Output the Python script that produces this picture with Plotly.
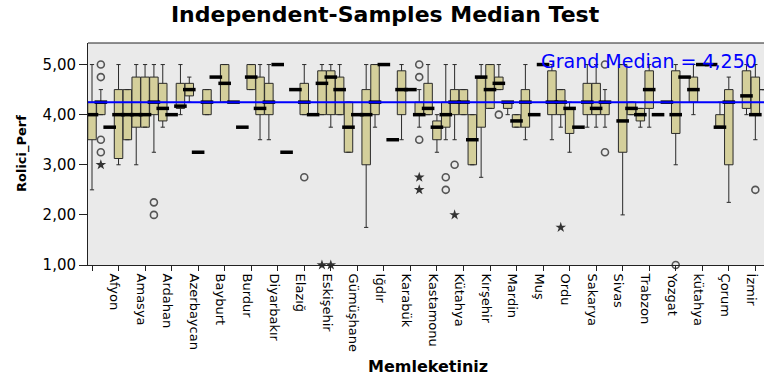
import plotly.graph_objects as go

# ---- data ----
tick_pos = [0, 3, 6, 9, 12, 15, 18, 21, 24, 27, 30, 33, 36, 39, 42, 45, 48, 51, 54, 57, 60, 63, 66, 69, 72, 75]
tick_labels = ["", "Afyon", "Amasya", "Ardahan", "Azerbaycan", "Bayburt", "Burdur", "Diyarbakır", "Elazığ",
               "Eskişehir", "Gümüşhane", "Iğdır", "Karabük", "Kastamonu", "Kütahya", "Kırşehir", "Mardin",
               "Muş", "Ordu", "Sakarya", "Sivas", "Trabzon", "Yozgat", "kütahya", "Çorum", "İzmir"]

# category position of each box (categories 59 and 73 show no box)
box_pos = [0, 1, 2, 3, 4, 5, 6, 7, 8, 9, 10, 11, 12, 13, 14, 15, 16, 17, 18, 19,
           20, 21, 22, 23, 24, 25, 26, 27, 28, 29, 30, 31, 32, 33, 34, 35, 36, 37, 38, 39,
           40, 41, 42, 43, 44, 45, 46, 47, 48, 49, 50, 51, 52, 53, 54, 55, 56, 57, 58,
           60, 61, 62, 63, 64, 65, 66, 67, 68, 69, 70, 71, 72, 74, 75, 76]
lower = [2.5, 4.0, 3.75, 3.0, 3.5, 3.0, 3.75, 3.25, 3.75, 4.0, 4.0, 4.25, 3.25, 4.0, 4.75, 4.25, 4.25, 3.75, 4.5, 3.5,
         3.5, 5.0, 3.25, 4.5, 4.0, 4.0, 4.0, 3.75, 4.0, 3.25, 4.0, 1.75, 3.75, 5.0, 3.5, 3.5, 4.5, 3.75, 4.0, 3.25,
         3.5, 3.5, 4.0, 3.0, 2.75, 4.125, 4.5, 4.0, 3.75, 3.5, 4.0, 5.0, 3.5, 3.75, 3.25, 3.75, 3.75, 3.75, 3.75,
         2.0, 4.0, 3.75, 3.75, 4.0, 4.25, 3.0, 4.75, 4.0, 5.0, 5.0, 3.75, 2.25, 4.0, 3.5, 4.5]
q1 = [3.5, 4.0, 3.75, 3.125, 3.5, 3.75, 3.75, 4.0, 3.875, 4.0, 4.125, 4.375, 3.25, 4.0, 4.75, 4.25, 4.25, 3.75, 4.5, 4.0,
      4.0, 5.0, 3.25, 4.5, 4.0, 4.0, 4.0, 4.0, 4.0, 3.25, 4.0, 3.0, 4.0, 5.0, 3.5, 4.0, 4.5, 4.0, 4.0, 3.5,
      3.75, 4.0, 4.0, 3.0, 3.75, 4.125, 4.5, 4.125, 3.75, 3.75, 4.0, 5.0, 4.0, 4.0, 3.625, 3.75, 4.0, 4.0, 4.0,
      3.25, 4.0, 3.875, 4.125, 4.0, 4.25, 3.625, 4.75, 4.25, 5.0, 5.0, 3.75, 3.0, 4.125, 4.0, 4.5]
median = [4.0, 4.25, 3.75, 4.0, 4.0, 4.0, 4.0, 4.25, 4.125, 4.0, 4.17, 4.5, 3.25, 4.25, 4.75, 4.625, 4.25, 3.75, 4.75, 4.125,
          4.25, 5.0, 3.25, 4.5, 4.25, 4.0, 4.625, 4.75, 4.5, 3.75, 4.0, 4.0, 4.25, 5.0, 3.5, 4.5, 4.5, 4.0, 4.125, 3.75,
          4.0, 4.25, 4.25, 3.5, 4.75, 4.5, 4.625, 4.25, 3.875, 4.25, 4.0, 5.0, 4.25, 4.25, 4.125, 3.75, 4.25, 4.125, 4.25,
          3.875, 4.125, 4.0, 4.5, 4.0, 4.25, 4.0, 4.75, 4.5, 5.0, 5.0, 3.75, 4.25, 4.375, 4.0, 4.5]
q3 = [4.25, 4.25, 3.75, 4.5, 4.5, 4.75, 4.75, 4.75, 4.625, 4.0, 4.625, 4.625, 3.25, 4.5, 4.75, 5.0, 4.25, 3.75, 5.0, 4.75,
      4.625, 5.0, 3.25, 4.5, 4.625, 4.0, 4.875, 4.875, 4.75, 4.25, 4.0, 4.5, 5.0, 5.0, 3.5, 4.875, 4.5, 4.25, 4.625, 3.875,
      4.25, 4.5, 4.5, 4.0, 4.75, 5.0, 4.75, 4.25, 4.0, 4.5, 4.0, 5.0, 4.875, 4.5, 4.125, 3.75, 4.625, 4.625, 4.25,
      5.0, 4.25, 4.125, 4.875, 4.0, 4.25, 4.875, 4.75, 4.75, 5.0, 5.0, 4.0, 4.5, 4.875, 4.75, 4.5]
upper = [5.0, 4.5, 3.75, 5.0, 4.5, 5.0, 5.0, 5.0, 5.0, 4.0, 5.0, 4.75, 3.25, 4.5, 4.75, 5.0, 4.25, 3.75, 5.0, 5.0,
         5.0, 5.0, 3.25, 4.5, 5.0, 4.0, 5.0, 5.0, 5.0, 4.25, 4.0, 5.0, 5.0, 5.0, 3.5, 5.0, 4.5, 4.5, 5.0, 4.0,
         5.0, 5.0, 4.5, 4.0, 5.0, 5.0, 5.0, 4.25, 4.0, 5.0, 4.0, 5.0, 5.0, 4.5, 4.25, 3.75, 5.0, 5.0, 4.5,
         5.0, 4.25, 4.125, 5.0, 4.0, 4.25, 5.0, 4.75, 5.0, 5.0, 5.0, 4.25, 4.75, 5.0, 5.0, 4.5]

outlier_x = [1, 1, 1, 1, 7, 7, 24, 37, 37, 37, 40, 40, 41, 46, 58, 58, 66, 75]
outlier_y = [5.0, 4.75, 3.5, 3.25, 2.25, 2.0, 2.75, 5.0, 4.75, 3.5, 2.75, 2.5, 3.0, 4.0, 5.0, 3.25, 1.0, 2.5]
extreme_x = [1, 26, 27, 37, 37, 41, 53]
extreme_y = [3.0, 1.0, 1.0, 2.75, 2.5, 2.0, 1.75]

grand_median = 4.25
y_ticks = [1, 2, 3, 4, 5]

FONT = "DejaVu Sans"

fig = go.Figure()
fig.add_trace(go.Box(
    x=box_pos, q1=q1, median=median, q3=q3, lowerfence=lower, upperfence=upper,
    width=0.96, whiskerwidth=0.5, boxpoints=False,
    fillcolor="#D4CF9B", line=dict(color="#2a2a2a", width=1), hoverinfo="skip",
    showlegend=False))
fig.add_trace(go.Scatter(
    x=box_pos, y=median, mode="markers", hoverinfo="skip", showlegend=False,
    marker=dict(symbol="line-ew", size=9, color="black", line=dict(color="black", width=3.5))))
fig.add_trace(go.Scatter(
    x=outlier_x, y=outlier_y, mode="markers", hoverinfo="skip", showlegend=False, cliponaxis=False,
    marker=dict(symbol="circle-open", size=7, color="#555555", line=dict(color="#555555", width=1.6))))
fig.add_trace(go.Scatter(
    x=extreme_x, y=extreme_y, mode="markers", hoverinfo="skip", showlegend=False, cliponaxis=False,
    marker=dict(symbol="star", size=8, color="#333333", line=dict(width=0))))

fig.add_shape(type="line", xref="paper", x0=0, x1=1, yref="y", y0=grand_median, y1=grand_median,
              line=dict(color="#0000FF", width=2), layer="above")
fig.add_shape(type="line", xref="paper", x0=0, x1=1, yref="paper", y0=1, y1=1,
              line=dict(color="#222222", width=1), layer="above")

fig.add_annotation(text="Grand Median = " + f"{grand_median:.3f}".replace(".", ","),
                   xref="paper", x=0.992, xanchor="right", yref="y", y=5.07, yanchor="middle",
                   showarrow=False, font=dict(family=FONT, size=19, color="#0000FF"))
fig.add_annotation(text="<b>Rolici_Perf</b>", textangle=-90, xref="paper", x=-0.0976, xanchor="center",
                   yref="paper", y=0.5, yanchor="middle", showarrow=False,
                   font=dict(family=FONT, size=13, color="black"))
fig.add_annotation(text="<b>Memleketiniz</b>", xref="paper", x=0.503, xanchor="center",
                   yref="paper", y=-0.455, yanchor="middle", showarrow=False,
                   font=dict(family=FONT, size=16, color="black"))

fig.update_layout(
    width=764, height=380,
    margin=dict(l=88, r=0, t=43, b=115, autoexpand=False),
    paper_bgcolor="white", plot_bgcolor="#EAEAEA",
    separators=",.",
    title=dict(text="<b>Independent-Samples Median Test</b>", x=0.504, xanchor="center",
               y=1 - 14 / 380, yanchor="middle", yref="container",
               font=dict(family=FONT, size=22, color="black")),
    xaxis=dict(range=[-0.452, 75.98], tickmode="array", tickvals=tick_pos, ticktext=tick_labels,
               tickangle=90, ticks="outside", ticklen=5, tickcolor="#222222", tickwidth=1,
               showline=True, linecolor="#222222", linewidth=1, showgrid=False, zeroline=False,
               tickfont=dict(family=FONT, size=13, color="black"), ticklabelshift=-4,
               automargin=False, fixedrange=True),
    yaxis=dict(range=[1.0, 5.43], tickmode="array", tickvals=y_ticks, tickformat=".2f",
               ticks="outside", ticklen=8, tickcolor="#222222", tickwidth=1,
               showline=True, linecolor="#222222", linewidth=1, showgrid=False, zeroline=False,
               tickfont=dict(family=FONT, size=15, color="black"), automargin=False, fixedrange=True),
)

fig.write_html("out.html", config={"staticPlot": True},
               post_script="document.body.style.margin='0';document.body.style.overflow='hidden';")
